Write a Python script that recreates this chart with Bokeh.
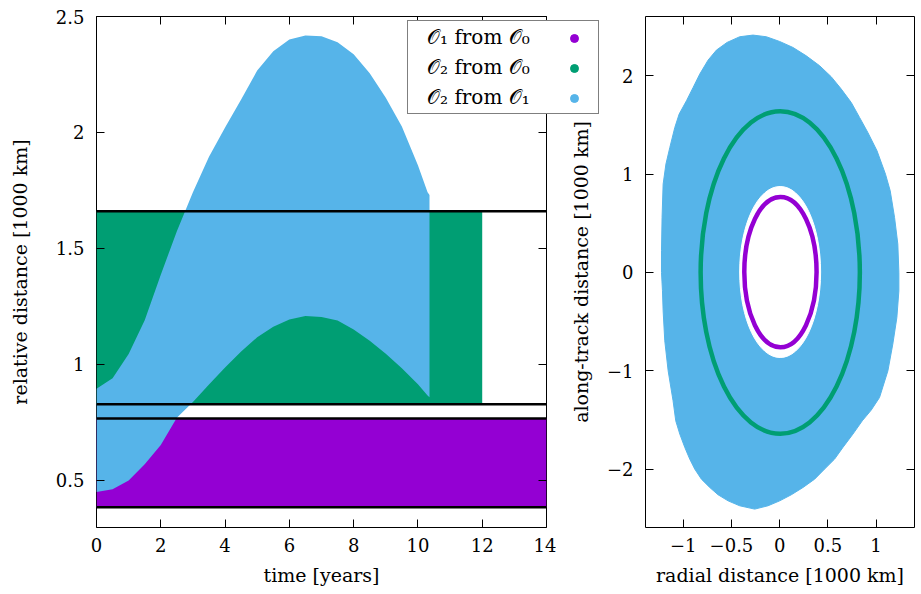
from bokeh.plotting import figure
from bokeh.layouts import row
from bokeh.models import (FixedTicker, LinearAxis, Legend, LegendItem, Range1d,
                          CustomLabelingPolicy)
from bokeh.embed import file_html
from bokeh.resources import INLINE

PURPLE = "#9400D3"
GREEN = "#009E73"
BLUE = "#56B4E9"
FONT = "DejaVu Serif"

# ---------------- left panel data ----------------
t_years = [0, 0.5, 1, 1.5, 2, 2.5, 3, 3.5, 4, 4.5, 5, 5.5, 6, 6.5, 7, 7.5, 8,
           8.5, 9, 9.5, 10, 10.3, 10.36]
blue_lower = [0.45, 0.462, 0.50, 0.57, 0.653, 0.77, 0.838, 0.914, 0.987, 1.056,
              1.117, 1.162, 1.194, 1.209, 1.205, 1.189, 1.151, 1.102, 1.046,
              0.984, 0.915, 0.866, 0.858]
blue_upper = [0.895, 0.94, 1.045, 1.19, 1.387, 1.574, 1.742, 1.895, 2.022, 2.142,
              2.267, 2.350, 2.401, 2.418, 2.415, 2.389, 2.337, 2.255, 2.15,
              2.026, 1.859, 1.742, 1.73]
purple_t = [0, 14]
purple_lo = [0.384, 0.384]
purple_hi = [0.767, 0.767]
green_t = [0, 12]
green_lo = [0.828, 0.828]
green_hi = [1.66, 1.66]
bound_t = [0, 14]
bound_levels = [1.66, 0.828, 0.767, 0.384]

left_xticks = [0, 2, 4, 6, 8, 10, 12, 14]
left_yticks = [0.5, 1, 1.5, 2, 2.5]

legend_labels = ["𝒪₁ from 𝒪₀", "𝒪₂ from 𝒪₀", "𝒪₂ from 𝒪₁"]

# ---------------- right panel data ----------------
outer_x = [-0.277, -0.138, 0.0, 0.138, 0.276, 0.415, 0.535, 0.639, 0.743, 0.829,
           0.915, 1.01, 1.098, 1.147, 1.192, 1.226, 1.237, 1.237, 1.216, 1.174,
           1.123, 1.036, 0.95, 0.857, 0.760, 0.656, 0.570, 0.466, 0.363, 0.242,
           0.121, 0.0, -0.121, -0.259, -0.415, -0.535, -0.639, -0.725, -0.812,
           -0.881, -0.933, -0.984, -1.036, -1.078, -1.106, -1.157, -1.192,
           -1.209, -1.216, -1.226, -1.226, -1.22, -1.209, -1.18, -1.14, -1.088,
           -1.043, -0.967, -0.898, -0.829, -0.743, -0.656, -0.546, -0.415]
outer_y = [2.415, 2.398, 2.350, 2.289, 2.204, 2.103, 1.991, 1.866, 1.729, 1.577,
           1.424, 1.238, 1.0, 0.831, 0.56, 0.289, 0.0, -0.186, -0.458, -0.728,
           -1.0, -1.272, -1.40, -1.509, -1.644, -1.78, -1.898, -2.0, -2.102,
           -2.187, -2.261, -2.323, -2.373, -2.407, -2.373, -2.323, -2.261,
           -2.187, -2.102, -2.0, -1.898, -1.78, -1.644, -1.509, -1.305, -1.0,
           -0.695, -0.39, -0.186, 0.0, 0.221, 0.56, 0.899, 1.103, 1.27, 1.475,
           1.611, 1.747, 1.882, 2.018, 2.160, 2.262, 2.340, 2.398]
hole_center = [0.005, 0.005]
hole_size = [0.84, 1.74]
green_center = [0.006, 0.0]
green_size = [1.652, 3.28]
purple_center = [0.008, 0.004]
purple_size = [0.75, 1.53]

right_xticks = [-1, -0.5, 0, 0.5, 1]
right_yticks = [-2, -1, 0, 1, 2]
right_xlabels = {-1: "−1", -0.5: "−0.5"}
right_ylabels = {-2: "−2", -1: "−1"}


def style_axis(ax):
    ax.axis_line_color = None
    ax.major_tick_in = 8
    ax.major_tick_out = 0
    ax.major_tick_line_color = "black"
    ax.minor_tick_line_color = None
    ax.major_label_text_font = FONT
    ax.major_label_text_font_size = "18px"
    ax.major_label_text_color = "black"
    ax.axis_label_text_font = FONT
    ax.axis_label_text_font_size = "19px"
    ax.axis_label_text_font_style = "normal"
    ax.axis_label_text_color = "black"


def mirror_axis(ticks):
    ax = LinearAxis(ticker=FixedTicker(ticks=ticks))
    ax.axis_line_color = None
    ax.major_tick_in = 8
    ax.major_tick_out = 0
    ax.major_tick_line_color = "black"
    ax.minor_tick_line_color = None
    ax.major_label_text_font_size = "1px"
    ax.major_label_standoff = 0
    ax.major_label_policy = CustomLabelingPolicy(code="return []")
    return ax


# ================= left figure =================
p1 = figure(frame_width=450, frame_height=511, min_border_left=96, min_border_top=16,
            min_border_bottom=59, min_border_right=10,
            x_range=Range1d(0, 14), y_range=Range1d(0.297, 2.5),
            output_backend="svg", toolbar_location=None)
p1.outline_line_color = "black"
p1.outline_line_width = 1
p1.grid.visible = False
p1.background_fill_color = "white"
p1.border_fill_color = "white"

p1.varea(x=purple_t, y1=purple_lo, y2=purple_hi, fill_color=PURPLE)
p1.varea(x=green_t, y1=green_lo, y2=green_hi, fill_color=GREEN)
p1.varea(x=t_years, y1=blue_lower, y2=blue_upper, fill_color=BLUE)
for lvl in bound_levels:
    p1.line(x=bound_t, y=[lvl, lvl], line_color="black", line_width=2.5)

p1.xaxis.ticker = FixedTicker(ticks=left_xticks)
p1.yaxis.ticker = FixedTicker(ticks=left_yticks)
p1.xaxis.axis_label = "time [years]"
p1.yaxis.axis_label = "relative distance [1000 km]"
for ax in p1.xaxis + p1.yaxis:
    style_axis(ax)
p1.xaxis.major_label_standoff = 10
p1.xaxis.axis_label_standoff = 9
p1.yaxis.major_label_standoff = 12
p1.yaxis.axis_label_standoff = 22
p1.add_layout(mirror_axis(left_xticks), "above")
p1.add_layout(mirror_axis(left_yticks), "right")

# ================= legend figure (overlay, transparent) =================
p3 = figure(frame_width=196, frame_height=98, min_border_left=0, min_border_right=0,
            min_border_top=16, min_border_bottom=0, x_axis_type=None, y_axis_type=None,
            x_range=Range1d(0, 1), y_range=Range1d(0, 1),
            output_backend="svg", toolbar_location=None)
p3.margin = (0, 0, 0, -149)
p3.align = "start"
p3.outline_line_color = None
p3.background_fill_color = None
p3.border_fill_color = None
p3.grid.visible = False

# legend-only renderers: one off-range point each (never visible in the frame)
ghosts = [p3.scatter(x=[-1], y=[-1], size=1, fill_alpha=0, line_alpha=0) for _ in range(3)]
dots = [p3.scatter(x=[-1], y=[-1], size=8, color=c) for c in (PURPLE, GREEN, BLUE)]
leg_a = Legend(items=[LegendItem(label=lab, renderers=[g]) for lab, g in zip(legend_labels, ghosts)],
               location=(0, 0), margin=0, padding=4, spacing=6,
               glyph_width=15, glyph_height=24, label_height=24, label_width=167,
               label_standoff=0, border_line_color="black", border_line_width=1,
               background_fill_color="white", background_fill_alpha=1.0,
               label_text_font=FONT, label_text_font_size="20px", label_text_color="black")
leg_b = Legend(items=[LegendItem(label=" ", renderers=[d]) for d in dots],
               location=(153, 0), margin=0, padding=4, spacing=6,
               glyph_width=20, glyph_height=24, label_height=24, label_width=0,
               label_standoff=0, border_line_alpha=0, background_fill_alpha=0,
               label_text_font=FONT, label_text_font_size="19px")
p3.add_layout(leg_a)
p3.add_layout(leg_b)

# ================= right figure =================
p2 = figure(frame_width=269, frame_height=511, min_border_left=78, min_border_top=16,
            min_border_bottom=59, min_border_right=0,
            x_range=Range1d(-1.392, 1.399), y_range=Range1d(-2.594, 2.604),
            output_backend="svg", toolbar_location=None)
p2.margin = (0, 0, 0, -37)
p2.align = "start"
p2.outline_line_color = "black"
p2.outline_line_width = 1
p2.grid.visible = False
p2.background_fill_color = "white"
p2.border_fill_color = None

p2.patch(x=outer_x, y=outer_y, fill_color=BLUE, line_color=BLUE, line_width=1)
p2.ellipse(x=hole_center[0], y=hole_center[1], width=hole_size[0], height=hole_size[1],
           fill_color="white", line_color="white")
p2.ellipse(x=green_center[0], y=green_center[1], width=green_size[0], height=green_size[1],
           fill_color=None, line_color=GREEN, line_width=4.5)
p2.ellipse(x=purple_center[0], y=purple_center[1], width=purple_size[0], height=purple_size[1],
           fill_color=None, line_color=PURPLE, line_width=4.5)

p2.xaxis.ticker = FixedTicker(ticks=right_xticks)
p2.yaxis.ticker = FixedTicker(ticks=right_yticks)
p2.xaxis.major_label_overrides = right_xlabels
p2.yaxis.major_label_overrides = right_ylabels
p2.xaxis.axis_label = "radial distance [1000 km]"
p2.yaxis.axis_label = "along-track distance [1000 km]"
for ax in p2.xaxis + p2.yaxis:
    style_axis(ax)
p2.xaxis.major_label_standoff = 10
p2.xaxis.axis_label_standoff = 9
p2.yaxis.major_label_standoff = 12
p2.yaxis.axis_label_standoff = 12
p2.add_layout(mirror_axis(right_xticks), "above")
p2.add_layout(mirror_axis(right_yticks), "right")

layout = row(p1, p3, p2)

open("out.html", "w").write(file_html(layout, INLINE))
